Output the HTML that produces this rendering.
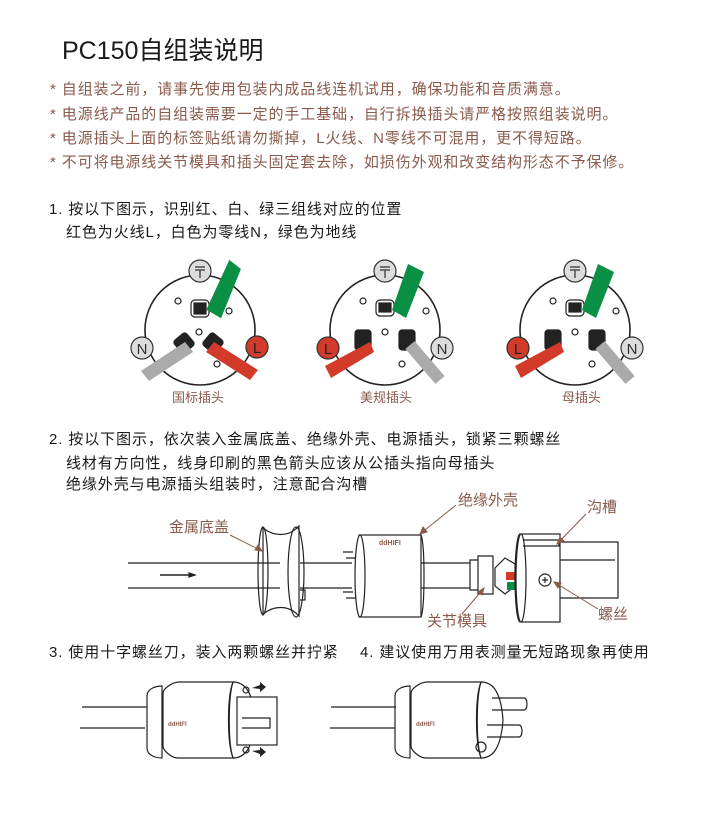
<!DOCTYPE html>
<html><head><meta charset="utf-8"><style>
body{margin:0;width:717px;height:832px;background:#fff;position:relative;overflow:hidden;font-family:"Liberation Sans","Noto Sans CJK SC",sans-serif}
.t{position:absolute;white-space:nowrap;line-height:1}
.b{color:#8a5a4c;font-size:15px;letter-spacing:0.9px;left:50px}
.h{color:#1a1a1a;font-size:15px;letter-spacing:0.9px}
.lab{color:#8a5a4c;font-size:13px}
svg{position:absolute;left:0;top:0}
</style></head><body>
<div class="t" style="left:62px;top:39px;font-size:25px;color:#1a1a1a">PC150自组装说明</div>
<div class="t b" style="top:82px">* 自组装之前，请事先使用包装内成品线连机试用，确保功能和音质满意。</div>
<div class="t b" style="top:107px">* 电源线产品的自组装需要一定的手工基础，自行拆换插头请严格按照组装说明。</div>
<div class="t b" style="top:131px">* 电源插头上面的标签贴纸请勿撕掉，L火线、N零线不可混用，更不得短路。</div>
<div class="t b" style="top:155px">* 不可将电源线关节模具和插头固定套去除，如损伤外观和改变结构形态不予保修。</div>
<div class="t h" style="left:49px;top:202px">1. 按以下图示，识别红、白、绿三组线对应的位置</div>
<div class="t h" style="left:66px;top:225px">红色为火线L，白色为零线N，绿色为地线</div>
<div class="t lab" style="left:172px;top:391px">国标插头</div>
<div class="t lab" style="left:360px;top:391px">美规插头</div>
<div class="t lab" style="left:562px;top:391px">母插头</div>
<div class="t h" style="left:49px;top:432px">2. 按以下图示，依次装入金属底盖、绝缘外壳、电源插头，锁紧三颗螺丝</div>
<div class="t h" style="left:66px;top:456px">线材有方向性，线身印刷的黑色箭头应该从公插头指向母插头</div>
<div class="t h" style="left:66px;top:477px">绝缘外壳与电源插头组装时，注意配合沟槽</div>
<div class="t lab" style="left:458px;top:493px;font-size:15px">绝缘外壳</div>
<div class="t lab" style="left:587px;top:500px;font-size:15px">沟槽</div>
<div class="t lab" style="left:169px;top:520px;font-size:15px">金属底盖</div>
<div class="t lab" style="left:427px;top:614px;font-size:15px">关节模具</div>
<div class="t lab" style="left:598px;top:607px;font-size:15px">螺丝</div>
<div class="t h" style="left:49px;top:645px">3. 使用十字螺丝刀，装入两颗螺丝并拧紧</div>
<div class="t h" style="left:360px;top:645px">4. 建议使用万用表测量无短路现象再使用</div>
<svg width="717" height="832" viewBox="0 0 717 832" fill="none" stroke="#222" stroke-width="1.2">
<defs>
<g id="earth"><circle r="11" fill="#ddd" stroke="#333"/><path d="M-5 -4h10M-5 -1h10M0 -1v8" stroke="#333"/></g>
</defs>
<g>
<circle cx="200" cy="330" r="55" stroke-width="1.6"/>
<use href="#earth" x="200" y="271"/>
<rect x="191" y="300" width="18" height="17" rx="4"/><rect x="194" y="303" width="12" height="11" fill="#222"/>
<polygon points="210,312 226,318 237,266 224,259" fill="#0a9045" stroke="none" transform="rotate(10 222 290)"/>
<circle cx="178" cy="301" r="3"/><circle cx="229" cy="311" r="3"/><circle cx="217" cy="364" r="3"/>
<circle cx="199" cy="332" r="3"/>
<rect x="176" y="335" width="16" height="16" rx="3" transform="rotate(-40 184 343)" fill="#222"/>
<rect x="205" y="335" width="16" height="16" rx="3" transform="rotate(40 213 343)" fill="#222"/>
<polygon points="185,342 193,352 149,381 141,371" fill="#aaa" stroke="none"/>
<polygon points="214,342 206,352 250,380 258,370" fill="#d23a2a" stroke="none"/>
<circle cx="142" cy="348" r="11" fill="#ddd" stroke="#333"/><text x="142" y="354" font-size="15" fill="#333" stroke="none" text-anchor="middle" font-family="Liberation Sans">N</text>
<circle cx="257" cy="347" r="11" fill="#d23a2a" stroke="#333"/><text x="257" y="353" font-size="15" fill="#222" stroke="none" text-anchor="middle" font-family="Liberation Sans">L</text>
</g>
<g id="us">
<circle cx="385" cy="330" r="55" stroke-width="1.6"/>
<use href="#earth" x="385" y="271"/>
<rect x="376" y="300" width="18" height="16" rx="4"/><rect x="379" y="303" width="12" height="9" fill="#222"/>
<polygon points="392,310 406,318 424,272 408,264" fill="#0a9045" stroke="none"/>
<circle cx="363" cy="301" r="3"/><circle cx="426" cy="311" r="3"/><circle cx="402" cy="364" r="3"/>
<circle cx="385" cy="332" r="3"/>
<rect x="355" y="330" width="16" height="20" rx="3" fill="#222"/>
<rect x="399" y="330" width="16" height="20" rx="3" fill="#222"/>
<polygon points="370,342 374,352 331,378 325,366" fill="#d23a2a" stroke="none"/>
<polygon points="414.6,341.1 405.4,348.9 435.4,383.9 444.6,376.1" fill="#aaa" stroke="none"/>
<circle cx="328" cy="348" r="11" fill="#d23a2a" stroke="#333"/><text x="328" y="354" font-size="15" fill="#222" stroke="none" text-anchor="middle" font-family="Liberation Sans">L</text>
<circle cx="442" cy="348" r="11" fill="#ddd" stroke="#333"/><text x="442" y="354" font-size="15" fill="#333" stroke="none" text-anchor="middle" font-family="Liberation Sans">N</text>
</g>
<use href="#us" x="190" y="0"/>
<g>
<path d="M128 563H280M128 588H280M300 563H352M300 588H352M420 563H470M420 588H470"/>
<path d="M160 575H195" stroke-width="1.5"/><path d="M195 575l-6-2v4z" fill="#222"/>
<path d="M263 528c10 8 25 10 36 -2v90c-11-12-26-10-36 -2z"/>
<ellipse cx="263" cy="571" rx="5" ry="44"/>
<ellipse cx="296" cy="572" rx="8" ry="45"/>
<path d="M300 590h5v10h-5"/>
<path d="M346 558h15v40h-15M343 552h10M343 592h10"/>
<rect x="359" y="535" width="62" height="82" fill="#fff"/>
<ellipse cx="360" cy="576" rx="5" ry="41" fill="#fff"/>
<path d="M421 535c4 10 4 72 0 82"/>
<text x="379" y="545" font-size="7" fill="#8a5a4c" stroke="none" font-weight="bold">ddHIFI</text>
<path d="M470 560h8v30h-8zM478 556h15v38h-15z" fill="#fff"/>
<path d="M495 568l10-10 10 6v22l-10 8-10-8z"/>
<rect x="506" y="572" width="9" height="8" fill="#d23a2a" stroke="none"/>
<rect x="507" y="582" width="9" height="8" fill="#0a9045" stroke="none"/>
<ellipse cx="520" cy="578" rx="5" ry="44" fill="#fff"/>
<rect x="522" y="534" width="38" height="88" fill="#fff"/>
<ellipse cx="521" cy="578" rx="5" ry="44" fill="#fff"/>
<path d="M523 540h36v6h-36"/>
<path d="M560 542h58v56h-58"/>
<path d="M560 560h55"/>
<circle cx="545" cy="580" r="6"/><path d="M542 580h6M545 577v6"/>
<g stroke="#8a5a4c" stroke-width="1">
<path d="M230 535l32 16"/><path d="M262 551l-7-1 3-5z" fill="#8a5a4c"/>
<path d="M456 505l-36 29"/><path d="M420 534l3-7 4 5z" fill="#8a5a4c"/>
<path d="M586 514l-29 30"/><path d="M557 544l3-7 4 4z" fill="#8a5a4c"/>
<path d="M598 609l-44-27"/><path d="M554 582l7 1-3 5z" fill="#8a5a4c"/>
<path d="M462 614l22-26"/><path d="M484 588l-2 7-4-3z" fill="#8a5a4c"/>
</g>
</g>
<g>
<path d="M82 707h65M80 728h65M331 707h65M330 728h65"/>
<path d="M147 696c0-8 10-10 15-10v72c-5 0-15-2-15-10z"/>
<path d="M163 693c0-4 8-10 15-11h55c-6 15-6 60 0 76h-55c-7 0-15-8-15-12z" fill="#fff"/>
<path d="M233 682c12 0 20 10 22 38 -2 28-10 38-22 38-5-15-5-60 0-76z"/>
<text x="168" y="726" font-size="6" fill="#8a5a4c" stroke="none" font-weight="bold">ddHIFI</text>
<rect x="237" y="697" width="40" height="48" fill="#fff"/>
<path d="M242 718h28v10h-28"/>
<circle cx="246" cy="690" r="3"/><circle cx="246" cy="750" r="3"/>
<path d="M252 688l8-3v-3l6 5-6 5v-3z" fill="#222" stroke="none"/>
<path d="M252 751l8 3v3l6-5-6-5v3z" fill="#222" stroke="none"/>
<path d="M395 696c0-8 10-10 15-10v72c-5 0-15-2-15-10z"/>
<path d="M411 693c0-4 8-10 15-11h55c-6 15-6 60 0 76h-55c-7 0-15-8-15-12z" fill="#fff"/>
<path d="M481 682c12 0 20 10 22 38 -2 28-10 38-22 38-5-15-5-60 0-76z"/>
<text x="416" y="726" font-size="6" fill="#8a5a4c" stroke="none" font-weight="bold">ddHIFI</text>
<path d="M492 698h32c4 0 4 12 0 12h-32M487 725h32c4 0 4 12 0 12h-32"/>
<circle cx="481" cy="747" r="5"/>
</g>
</svg>
</body></html>
